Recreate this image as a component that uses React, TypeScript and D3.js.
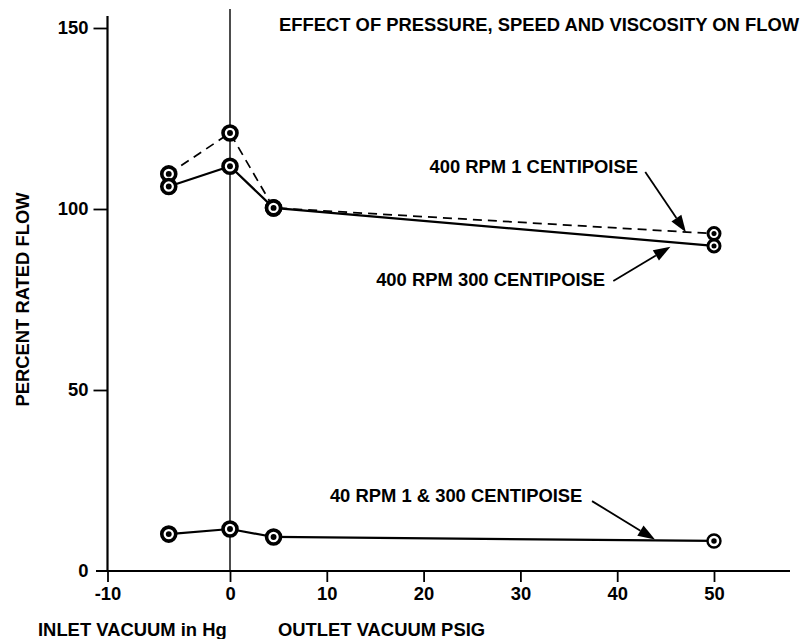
import React, { useEffect, useRef } from 'react';
import * as d3 from 'd3';

// x: inlet vacuum (in Hg) on the left of 0, outlet (psig) on the right
const xTicks = [-10, 0, 10, 20, 30, 40, 50];
const yTicks = [0, 50, 100, 150];

const xPoints = [-5, 0, 4.5, 50];
const rpm400cp1 = [109.7, 121, 100.3, 93.2];
const rpm400cp300 = [106.2, 111.8, 100.3, 89.8];
const rpm40 = [10.2, 11.6, 9.4, 8.3];

const titleText = 'EFFECT OF PRESSURE, SPEED AND VISCOSITY ON FLOW';

// label position (data units, right end) and arrow from -> tip
const notes = [
  { text: '400 RPM 1 CENTIPOISE', lx: 42.15, ly: 111.2, from: [42.9, 110.2], tip: [47.1, 93.6] },
  { text: '400 RPM 300 CENTIPOISE', lx: 38.75, ly: 80, from: [39.6, 80.1], tip: [45.5, 89.6] },
  { text: '40 RPM 1 & 300 CENTIPOISE', lx: 36.4, ly: 20.4, from: [37.4, 19.3], tip: [43.9, 8.7] },
];

function App() {
  return (
    <div>
      <FlowChart />
    </div>
  );
}

function FlowChart() {
  const ref = useRef(null);

  useEffect(() => {
    if (!ref.current) return;
    const width = 806;
    const height = 639;
    const font = 'Arial, "Liberation Sans", Helvetica, sans-serif';
    const fs = 18.4;

    d3.select(ref.current).select('svg').remove();

    const svg = d3.select(ref.current)
      .append('svg')
      .attr('width', width)
      .attr('height', height)
      .style('position', 'absolute')
      .style('left', 0)
      .style('top', 0)
      .style('background', '#fff')
      .style('font-family', font)
      .style('font-weight', 'bold');

    // two different units either side of zero, so the scale is piecewise
    const x = d3.scaleLinear().domain([-10, 0, 50]).range([107.5, 230, 714]);
    const y = d3.scaleLinear().domain([0, 150]).range([571, 28]);

    // y axis
    const yAxis = svg.append('g')
      .attr('transform', `translate(${x(-10)},0)`)
      .call(d3.axisLeft(y).tickValues(yTicks.filter(d => d > 0)).tickSize(14).tickPadding(5));
    yAxis.select('.domain').remove();
    yAxis.selectAll('line').attr('stroke', '#000').attr('stroke-width', 1.8);
    yAxis.selectAll('text').attr('font-size', fs).attr('font-family', font).attr('font-weight', 'bold').attr('fill', '#000');
    svg.append('line')
      .attr('x1', x(-10)).attr('x2', x(-10))
      .attr('y1', 16).attr('y2', y(0))
      .attr('stroke', '#000').attr('stroke-width', 2.2);
    svg.append('text')
      .attr('x', x(-10) - 19).attr('y', y(0) + 6)
      .attr('text-anchor', 'end').attr('font-size', fs)
      .text(yTicks[0]);

    // x axis
    const xAxis = svg.append('g')
      .attr('transform', `translate(0,${y(0)})`)
      .call(d3.axisBottom(x).tickValues(xTicks).tickSize(11).tickPadding(5).tickFormat(d => String(d)));
    xAxis.select('.domain').remove();
    xAxis.selectAll('line').attr('stroke', '#000').attr('stroke-width', 1.8);
    xAxis.selectAll('text').attr('font-size', fs).attr('font-family', font).attr('font-weight', 'bold').attr('fill', '#000');
    svg.append('line')
      .attr('x1', 96).attr('x2', 790)
      .attr('y1', y(0)).attr('y2', y(0))
      .attr('stroke', '#000').attr('stroke-width', 2.2);

    // zero divider
    svg.append('line')
      .attr('x1', x(0)).attr('x2', x(0))
      .attr('y1', 9).attr('y2', y(0))
      .attr('stroke', '#000').attr('stroke-width', 1.4);

    // titles
    svg.append('text')
      .attr('x', 279).attr('y', 31)
      .attr('font-size', fs)
      .text(titleText);
    svg.append('text')
      .attr('transform', `translate(29,${y(75)}) rotate(-90)`)
      .attr('text-anchor', 'middle')
      .attr('font-size', fs)
      .text('PERCENT RATED FLOW');
    svg.append('text')
      .attr('x', 38).attr('y', 636)
      .attr('font-size', fs)
      .text('INLET VACUUM in Hg');
    svg.append('text')
      .attr('x', 278).attr('y', 636)
      .attr('font-size', fs)
      .text('OUTLET VACUUM PSIG');

    const line = d3.line().x(d => x(d[0])).y(d => y(d[1]));
    const toPts = vals => xPoints.map((xv, i) => [xv, vals[i]]);

    svg.append('path')
      .attr('d', line(toPts(rpm400cp1)))
      .attr('fill', 'none').attr('stroke', '#000')
      .attr('stroke-width', 1.7).attr('stroke-dasharray', '9,6');
    svg.append('path')
      .attr('d', line(toPts(rpm400cp300)))
      .attr('fill', 'none').attr('stroke', '#000').attr('stroke-width', 2.2);
    svg.append('path')
      .attr('d', line(toPts(rpm40)))
      .attr('fill', 'none').attr('stroke', '#000').attr('stroke-width', 2.2);

    const marker = (xv, yv, r, sw) => {
      svg.append('circle')
        .attr('cx', x(xv)).attr('cy', y(yv)).attr('r', r)
        .attr('fill', '#fff').attr('stroke', '#000').attr('stroke-width', sw);
      svg.append('circle')
        .attr('cx', x(xv)).attr('cy', y(yv)).attr('r', r * 0.42)
        .attr('fill', '#000');
    };
    [rpm400cp1, rpm400cp300].forEach(vals => {
      xPoints.forEach((xv, i) => {
        if (xv === 50) marker(xv, vals[i], 6, 3);
        else marker(xv, vals[i], 7, 3.6);
      });
    });
    xPoints.forEach((xv, i) => {
      if (xv === 50) marker(xv, rpm40[i], 6.5, 2.4);
      else marker(xv, rpm40[i], 7, 3.6);
    });

    // annotations with arrows
    notes.forEach(n => {
      svg.append('text')
        .attr('x', x(n.lx)).attr('y', y(n.ly))
        .attr('text-anchor', 'end')
        .attr('dominant-baseline', 'middle')
        .attr('font-size', fs)
        .text(n.text);
      const x1 = x(n.from[0]), y1 = y(n.from[1]);
      const x2 = x(n.tip[0]), y2 = y(n.tip[1]);
      const ang = Math.atan2(y2 - y1, x2 - x1);
      const len = 17, half = 6;
      const bx = x2 - len * Math.cos(ang), by = y2 - len * Math.sin(ang);
      svg.append('line')
        .attr('x1', x1).attr('y1', y1).attr('x2', bx).attr('y2', by)
        .attr('stroke', '#000').attr('stroke-width', 1.8);
      svg.append('path')
        .attr('d', `M${x2},${y2}L${bx + half * Math.sin(ang)},${by - half * Math.cos(ang)}L${bx - half * Math.sin(ang)},${by + half * Math.cos(ang)}Z`)
        .attr('fill', '#000');
    });
  }, []);

  return <div ref={ref} />;
}

export default App;
